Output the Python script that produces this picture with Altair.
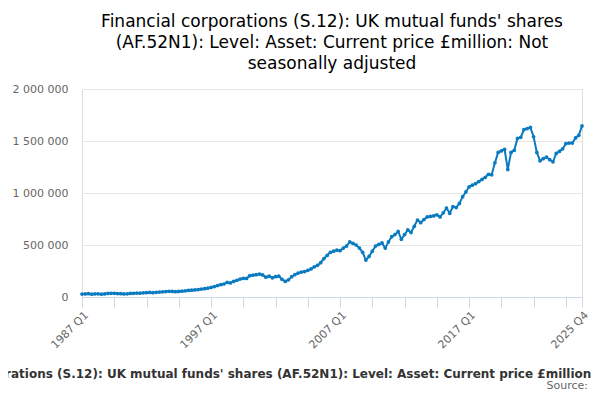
import pandas as pd
import altair as alt

years = list(range(1987, 2026))
values_k = [
    28, 30, 32, 27, 29, 31, 27, 30, 34, 36, 35, 33, 32, 30, 31, 34,
    36, 38, 37, 40, 42, 44, 41, 45, 48, 50, 52, 55, 53, 51, 54, 56,
    60, 63, 66, 68, 72, 76, 80, 85, 92, 100, 110, 118, 125, 140, 135, 150,
    160, 172, 180, 178, 205, 210, 215, 220, 212, 190, 200, 185,
    195, 200, 170, 150, 165, 195, 215, 230, 240, 245, 255, 270,
    290, 305, 330, 370, 400, 430, 440, 450, 445, 470, 490, 530,
    515, 500, 470, 430, 355, 390, 440, 490, 505, 520, 470, 530,
    580, 600, 630, 555, 600, 645, 620, 680, 740, 715, 745, 770,
    775, 780, 790, 770, 810, 855, 805, 870, 860, 900, 965, 1010,
    1060, 1075, 1090, 1110, 1130, 1150, 1180, 1175, 1290, 1390, 1405, 1420,
    1225, 1390, 1410, 1525, 1535, 1610, 1620, 1630, 1540, 1390, 1310, 1330,
    1345, 1320, 1300, 1380, 1400, 1425, 1475, 1480, 1480, 1530, 1555, 1645,
]
quarters = [f"{y} Q{q}" for y in years for q in range(1, 5)]

df = pd.DataFrame({
    "idx": range(len(quarters)),
    "period": quarters,
    "value": [v * 1000 for v in values_k],
})

label_expr = ("datum.value == 0 ? '1987 Q1' : datum.value == 40 ? '1997 Q1' : "
              "datum.value == 80 ? '2007 Q1' : datum.value == 120 ? '2017 Q1' : "
              "datum.value == 155 ? '2025 Q4' : ''")
full_title = ("Financial corporations (S.12): UK mutual funds' shares (AF.52N1): "
              "Level: Asset: Current price £million: Not seasonally adjusted")

base = alt.Chart(df).encode(
    x=alt.X("idx:Q", scale=alt.Scale(domain=[0, 155], nice=False),
            axis=alt.Axis(values=list(range(0, 160, 10)) + [155],
                          labelExpr=label_expr,
                          labelAngle=-45, labelAlign="right", labelBaseline="top",
                          labelOverlap=False,
                          grid=False, domainColor="#ccd6eb", tickColor="#ccd6eb",
                          tickSize=10, labelColor="#666666", labelFontSize=11,
                          title=full_title, titleFontSize=12, titleFontWeight="bold",
                          titleColor="#333333", titlePadding=18)),
    y=alt.Y("value:Q", scale=alt.Scale(domain=[0, 2000000]),
            axis=alt.Axis(values=[0, 500000, 1000000, 1500000, 2000000],
                          labelExpr="replace(replace(format(datum.value, ','), ',', ' '), ',', ' ')",
                          title=None, domain=False, ticks=False, gridColor="#e6e6e6",
                          labelColor="#666666", labelFontSize=11, labelPadding=14)),
    tooltip=["period", "value"],
)

line = base.mark_line(color="#0b7bc1", strokeWidth=2)
pts = base.mark_circle(color="#0b7bc1", size=14, opacity=1)

source = alt.Chart(pd.DataFrame({"t": ["Source:"]})).mark_text(
    align="right", baseline="bottom", fontSize=11, color="#666666", font="DejaVu Sans"
).encode(x=alt.value(506), y=alt.value(302), text="t:N")

chart = (line + pts + source).properties(
    width=500, height=208,
    title=alt.TitleParams(
        ["Financial corporations (S.12): UK mutual funds' shares",
         "(AF.52N1): Level: Asset: Current price £million: Not",
         "seasonally adjusted"],
        fontSize=17, fontWeight="normal", color="#000000", anchor="middle",
        lineHeight=21, offset=10, font="DejaVu Sans"),
    autosize=alt.AutoSizeParams(type="none"),
    padding={"left": 74, "top": 81, "right": 10, "bottom": 95},
).configure_view(stroke=None).configure(font="DejaVu Sans")

chart.save("out.html", embed_options={"renderer": "svg", "actions": False})
